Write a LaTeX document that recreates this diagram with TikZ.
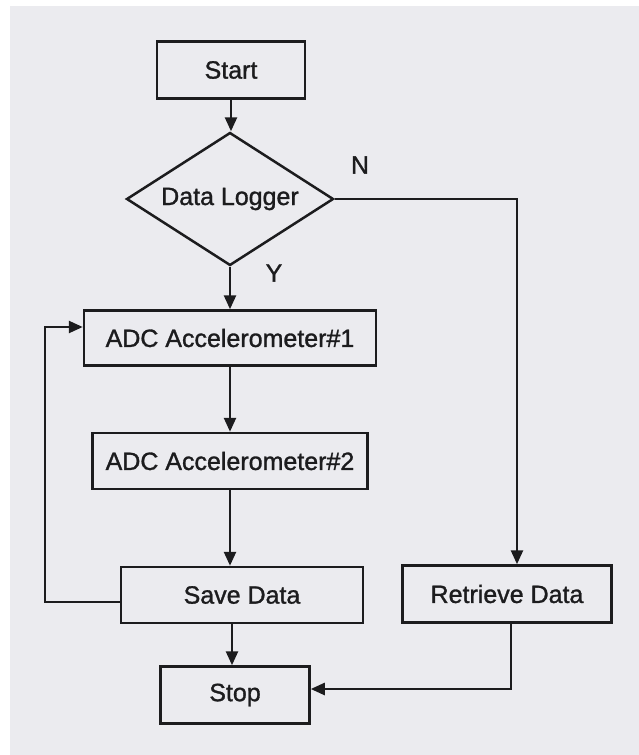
\documentclass[tikz,border=0pt]{standalone}
\usepackage{fontspec}
\setmainfont{Liberation Sans}
\newfontfamily\labelfont{Liberation Sans}[FakeBold=1.2]
\usetikzlibrary{shapes.geometric,arrows.meta}
\definecolor{paper}{HTML}{EBEBEF}
\definecolor{ink}{HTML}{1C1C1E}
\begin{document}
\begin{tikzpicture}[x=1pt,y=-1pt,
  line width=2.5pt, draw=ink, text=ink,
  txt/.style={font=\labelfont\fontsize{25}{30}\selectfont},
  box/.style={draw=ink, rectangle, inner sep=0pt, txt},
  decision/.style={draw=ink, diamond, aspect=1.556, inner sep=0pt,
    minimum width=207pt, minimum height=133pt, txt},
  flow/.style={draw=ink, -{Triangle[length=14pt,width=12pt]}}]
% page
\fill[white] (0,0) rectangle (639,755);
\fill[paper] (10,6) rectangle (639,755);
\useasboundingbox (0,0) rectangle (639,755);

% blocks
\node[box, minimum width=148pt, minimum height=57pt] (start) at (231,70) {Start};
\node[decision] (logger) at (230,199) {Data Logger};
\node[box, minimum width=292pt, minimum height=55pt] (adc1) at (230,338) {ADC Accelerometer\#1};
\node[box, minimum width=275pt, minimum height=56pt] (adc2) at (230,461) {ADC Accelerometer\#2};
\node[box, minimum width=242pt, minimum height=56pt] (save) at (242,595) {Save Data};
\node[box, minimum width=209pt, minimum height=57pt] (retr) at (507,594) {Retrieve Data};
\node[box, minimum width=149pt, minimum height=57pt] (stop) at (235,695) {Stop};

% branch labels
\node[txt] (lblN) at (360,165) {N};
\node[txt] (lblY) at (274,273) {Y};

% connectors
\draw[flow] (start.south) -- (start.south |- logger.north);
\draw[flow] (logger.south) -- (logger.south |- adc1.north);
\draw[flow] (adc1.south) -- (adc1.south |- adc2.north);
\draw[flow] (adc2.south) -- (adc2.south |- save.north);
\coordinate (saveout) at ([xshift=-10pt]save.south);
\draw[flow] (saveout) -- (saveout |- stop.north);
\draw[flow] (logger.east) -| ([xshift=10pt]retr.north);
\coordinate (loopx) at (45,0);
\coordinate (adcin) at ([yshift=11pt]adc1.west);
\draw[flow] ([yshift=-7pt]save.west) -| (loopx |- adcin) -- (adcin);
\draw[flow] ([xshift=4pt]retr.south) |- ([yshift=6pt]stop.east);
\end{tikzpicture}
\end{document}
